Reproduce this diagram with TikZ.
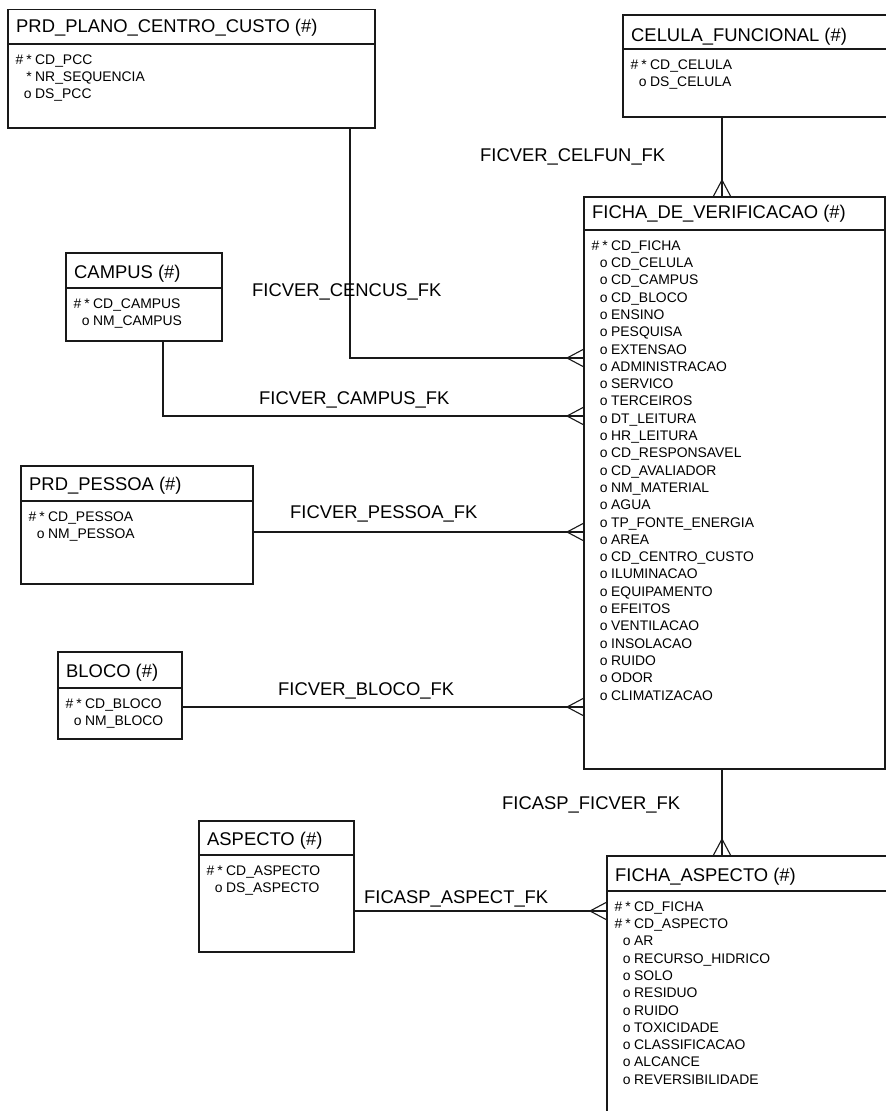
\documentclass[tikz,border=0pt]{standalone}
\usepackage{fontspec}
\setmainfont{Liberation Sans}
\usetikzlibrary{calc}

% one attribute line: prefix right-aligned before the column name
\newcommand\fld[2]{\makebox[0pt][r]{#1\hspace{3.5pt}}#2\strut}
\newcommand\pkey{\#\hspace{3pt}*}

% entity box: name, left, top, right, bottom, header line y, title baseline y, title, attributes
\newcommand\erbox[9]{%
  \node[ebox, minimum width={#4pt-#2pt}, minimum height={#5pt-#3pt}] (#1) at (#2,#3) {};
  \draw[conn] (#1.west |- 0,#6) -- (#1.east |- 0,#6);
  \node[etitle] (#1-title) at (#2+8,#7) {#8};
  \node[eattr] (#1-attr) at (#2+27,#6+7.9) {#9};
}

\tikzset{
  conn/.style={line width=1.1pt, draw=black!90},
  ebox/.style={draw=black!90, line width=1.1pt, fill=none, rectangle, anchor=north west,
    inner sep=0pt, outer sep=0pt},
  etitle/.style={anchor=base west, inner sep=0pt, font=\fontsize{18.4}{22}\selectfont},
  eattr/.style={anchor=north west, inner sep=0pt, align=left, font=\fontsize{13.9}{17.3}\selectfont},
  rel/.style={anchor=base west, inner sep=0pt, font=\fontsize{18.4}{22}\selectfont},
  crowW/.pic={\draw[conn] (-17,0) -- (0,-9) (-17,0) -- (0,9);},
  crowN/.pic={\draw[conn] (0,-17) -- (-9,0) (0,-17) -- (9,0);},
}

\begin{document}
\begin{tikzpicture}[x=1pt, y=-1pt]
\clip (0,0) rectangle (886,1111);
\fill[white] (0,0) rectangle (886,1111);

\erbox{pcc}{8}{9.5}{375}{128}{44}{32}{PRD\_PLANO\_CENTRO\_CUSTO (\#)}{%
  \fld{\pkey}{CD\_PCC}\\ \fld{*}{NR\_SEQUENCIA}\\ \fld{o}{DS\_PCC}}

\erbox{cel}{623}{15}{900}{117}{49}{41.7}{CELULA\_FUNCIONAL (\#)}{%
  \fld{\pkey}{CD\_CELULA}\\ \fld{o}{DS\_CELULA}}

\erbox{campus}{66}{253}{222}{341}{288}{278}{CAMPUS (\#)}{%
  \fld{\pkey}{CD\_CAMPUS}\\ \fld{o}{NM\_CAMPUS}}

\erbox{pessoa}{21}{466}{253}{584}{501}{490}{PRD\_PESSOA (\#)}{%
  \fld{\pkey}{CD\_PESSOA}\\ \fld{o}{NM\_PESSOA}}

\erbox{bloco}{58}{652}{182}{739}{688}{677}{BLOCO (\#)}{%
  \fld{\pkey}{CD\_BLOCO}\\ \fld{o}{NM\_BLOCO}}

\erbox{ficha}{584}{197}{885}{769}{230}{218}{FICHA\_DE\_VERIFICACAO (\#)}{%
  \fld{\pkey}{CD\_FICHA}\\
  \fld{o}{CD\_CELULA}\\
  \fld{o}{CD\_CAMPUS}\\
  \fld{o}{CD\_BLOCO}\\
  \fld{o}{ENSINO}\\
  \fld{o}{PESQUISA}\\
  \fld{o}{EXTENSAO}\\
  \fld{o}{ADMINISTRACAO}\\
  \fld{o}{SERVICO}\\
  \fld{o}{TERCEIROS}\\
  \fld{o}{DT\_LEITURA}\\
  \fld{o}{HR\_LEITURA}\\
  \fld{o}{CD\_RESPONSAVEL}\\
  \fld{o}{CD\_AVALIADOR}\\
  \fld{o}{NM\_MATERIAL}\\
  \fld{o}{AGUA}\\
  \fld{o}{TP\_FONTE\_ENERGIA}\\
  \fld{o}{AREA}\\
  \fld{o}{CD\_CENTRO\_CUSTO}\\
  \fld{o}{ILUMINACAO}\\
  \fld{o}{EQUIPAMENTO}\\
  \fld{o}{EFEITOS}\\
  \fld{o}{VENTILACAO}\\
  \fld{o}{INSOLACAO}\\
  \fld{o}{RUIDO}\\
  \fld{o}{ODOR}\\
  \fld{o}{CLIMATIZACAO}}

\erbox{aspecto}{199}{821}{354}{952}{855}{845}{ASPECTO (\#)}{%
  \fld{\pkey}{CD\_ASPECTO}\\ \fld{o}{DS\_ASPECTO}}

\erbox{fasp}{607}{856}{900}{1130}{891}{881}{FICHA\_ASPECTO (\#)}{%
  \fld{\pkey}{CD\_FICHA}\\
  \fld{\pkey}{CD\_ASPECTO}\\
  \fld{o}{AR}\\
  \fld{o}{RECURSO\_HIDRICO}\\
  \fld{o}{SOLO}\\
  \fld{o}{RESIDUO}\\
  \fld{o}{RUIDO}\\
  \fld{o}{TOXICIDADE}\\
  \fld{o}{CLASSIFICACAO}\\
  \fld{o}{ALCANCE}\\
  \fld{o}{REVERSIBILIDADE}}

% relationships (many side drawn as crow's foot)
\draw[conn] (pcc.south -| 350,0) |- (ficha.west |- 0,358);
\pic at (ficha.west |- 0,358) {crowW};
\node[rel] (l-cencus) at (252,296) {FICVER\_CENCUS\_FK};

\draw[conn] (cel.south -| 722,0) -- (ficha.north -| 722,0);
\pic at (ficha.north -| 722,0) {crowN};
\node[rel] (l-celfun) at (480,161.5) {FICVER\_CELFUN\_FK};

\draw[conn] (campus.south -| 163,0) |- (ficha.west |- 0,416);
\pic at (ficha.west |- 0,416) {crowW};
\node[rel] (l-campus) at (259,404) {FICVER\_CAMPUS\_FK};

\draw[conn] (pessoa.east |- 0,532) -- (ficha.west |- 0,532);
\pic at (ficha.west |- 0,532) {crowW};
\node[rel] (l-pessoa) at (290,518.5) {FICVER\_PESSOA\_FK};

\draw[conn] (bloco.east |- 0,707) -- (ficha.west |- 0,707);
\pic at (ficha.west |- 0,707) {crowW};
\node[rel] (l-bloco) at (278,695.5) {FICVER\_BLOCO\_FK};

\draw[conn] (ficha.south -| 722,0) -- (fasp.north -| 722,0);
\pic at (fasp.north -| 722,0) {crowN};
\node[rel] (l-ficver) at (502,809.5) {FICASP\_FICVER\_FK};

\draw[conn] (aspecto.east |- 0,911) -- (fasp.west |- 0,911);
\pic at (fasp.west |- 0,911) {crowW};
\node[rel] (l-aspect) at (364,903) {FICASP\_ASPECT\_FK};
\end{tikzpicture}
\end{document}
